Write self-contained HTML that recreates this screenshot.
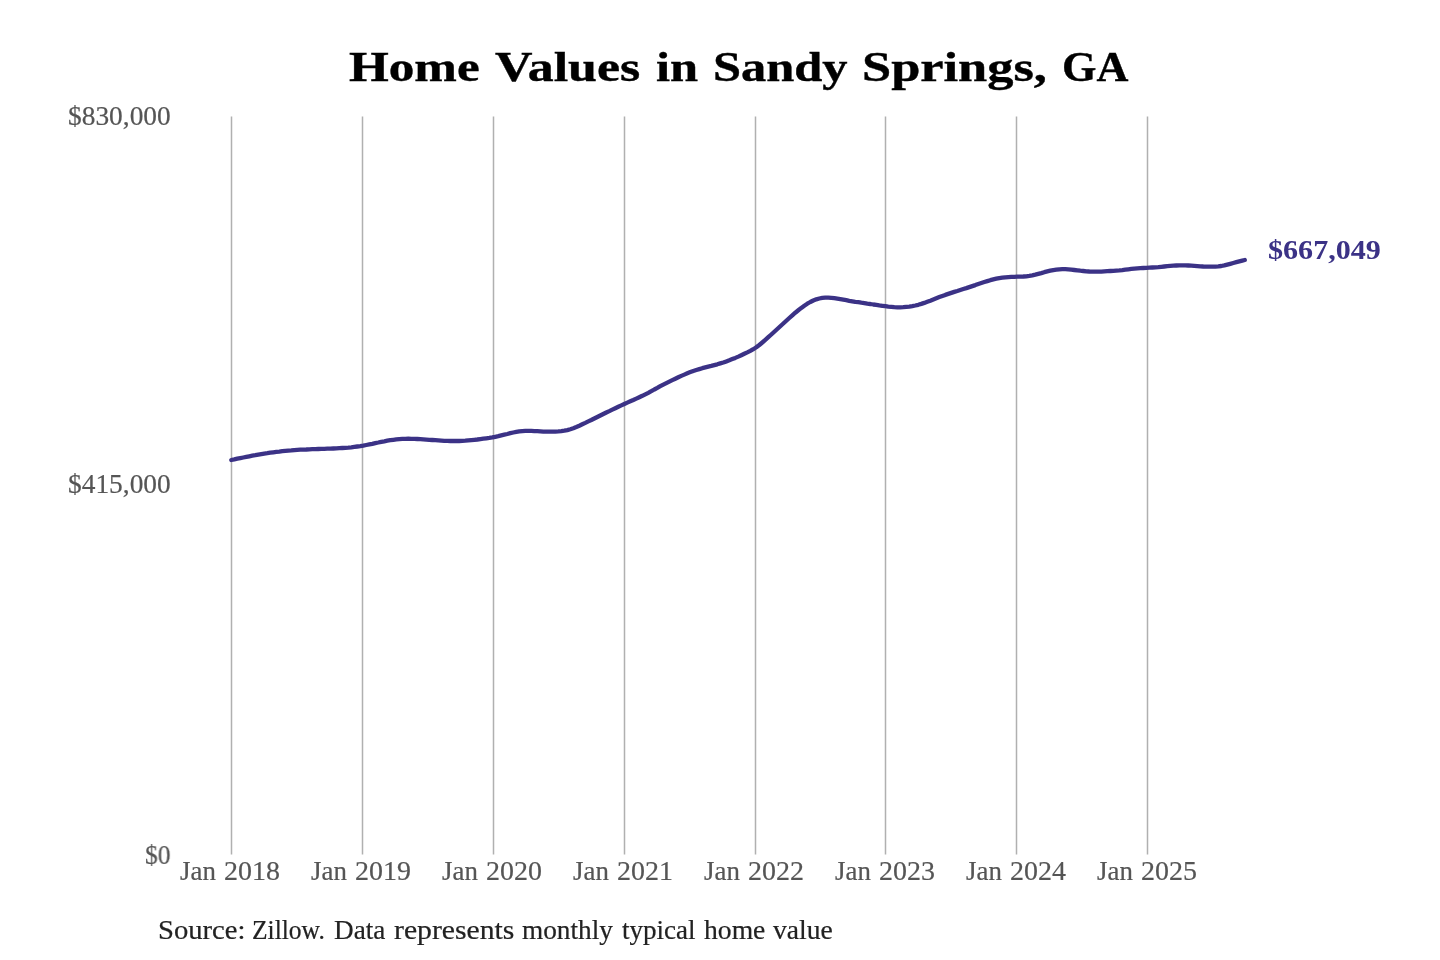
<!DOCTYPE html>
<html><head><meta charset="utf-8"><title>Home Values in Sandy Springs, GA</title>
<style>
html,body{margin:0;padding:0;background:#fff;}
body{width:1440px;height:960px;position:relative;overflow:hidden;font-family:"Liberation Serif",serif;}
svg{position:absolute;left:0;top:0;}
.g{position:absolute;left:0;top:0;margin:0;will-change:transform;}
.g span{position:absolute;white-space:nowrap;line-height:1;transform-origin:0 0;}
.title{font-weight:bold;color:#000;-webkit-text-stroke:0.4px #000;}
.tick{color:#555;-webkit-text-stroke:0.2px #555;}
.val{font-weight:bold;color:#3b3286;}
.src{color:#222;-webkit-text-stroke:0.2px #222;}
</style></head><body>
<svg width="1440" height="960" viewBox="0 0 1440 960">
<g stroke="#b0b0b0" stroke-width="1.5" fill="none">
<line x1="231.5" y1="116.4" x2="231.5" y2="854.6"/>
<line x1="362.5" y1="116.4" x2="362.5" y2="854.6"/>
<line x1="493.5" y1="116.4" x2="493.5" y2="854.6"/>
<line x1="624.5" y1="116.4" x2="624.5" y2="854.6"/>
<line x1="755.5" y1="116.4" x2="755.5" y2="854.6"/>
<line x1="885.5" y1="116.4" x2="885.5" y2="854.6"/>
<line x1="1016.5" y1="116.4" x2="1016.5" y2="854.6"/>
<line x1="1147.5" y1="116.4" x2="1147.5" y2="854.6"/>
</g>
<polyline points="231.3,460.0 234.3,459.4 237.3,458.7 240.3,458.1 243.3,457.5 246.3,456.9 249.3,456.3 252.3,455.7 255.3,455.2 258.3,454.6 261.3,454.1 264.3,453.6 267.3,453.2 270.3,452.7 273.3,452.3 276.3,451.9 279.3,451.6 282.3,451.2 285.3,450.9 288.3,450.6 291.3,450.4 294.3,450.1 297.3,449.9 300.3,449.7 303.3,449.6 306.3,449.5 309.3,449.3 312.3,449.2 315.3,449.1 318.3,449.0 321.3,448.9 324.3,448.8 327.3,448.7 330.3,448.6 333.3,448.5 336.3,448.4 339.3,448.2 342.3,448.0 345.3,447.8 348.3,447.6 351.3,447.3 354.3,446.9 357.3,446.5 360.3,446.1 363.3,445.6 366.3,445.0 369.3,444.4 372.3,443.8 375.3,443.1 378.3,442.5 381.3,441.8 384.3,441.3 387.3,440.7 390.3,440.2 393.3,439.8 396.3,439.4 399.3,439.1 402.3,438.9 405.3,438.8 408.3,438.7 411.3,438.8 414.3,438.9 417.3,439.0 420.3,439.2 423.3,439.4 426.3,439.6 429.3,439.8 432.3,440.0 435.3,440.2 438.3,440.4 441.3,440.6 444.3,440.8 447.3,440.9 450.3,441.0 453.3,441.0 456.3,441.0 459.3,441.0 462.3,440.9 465.3,440.7 468.3,440.4 471.3,440.1 474.3,439.8 477.3,439.5 480.3,439.1 483.3,438.7 486.3,438.3 489.3,437.9 492.3,437.4 495.3,436.8 498.3,436.2 501.3,435.4 504.3,434.7 507.3,434.0 510.3,433.2 513.3,432.5 516.3,431.9 519.3,431.4 522.3,431.1 525.3,430.9 528.3,430.8 531.3,430.9 534.3,431.1 537.3,431.2 540.3,431.4 543.3,431.6 546.3,431.7 549.3,431.7 552.3,431.7 555.3,431.6 558.3,431.4 561.3,431.1 564.3,430.7 567.3,430.1 570.3,429.2 573.3,428.2 576.3,427.0 579.3,425.7 582.3,424.3 585.3,422.9 588.3,421.4 591.3,420.0 594.3,418.5 597.3,417.0 600.3,415.5 603.3,414.0 606.3,412.5 609.3,411.1 612.3,409.6 615.3,408.2 618.3,406.8 621.3,405.4 624.3,404.0 627.3,402.6 630.3,401.3 633.3,400.0 636.3,398.6 639.3,397.2 642.3,395.8 645.3,394.3 648.3,392.8 651.3,391.2 654.3,389.5 657.3,387.9 660.3,386.2 663.3,384.6 666.3,383.1 669.3,381.6 672.3,380.1 675.3,378.7 678.3,377.3 681.3,375.9 684.3,374.6 687.3,373.3 690.3,372.1 693.3,371.0 696.3,370.0 699.3,369.1 702.3,368.2 705.3,367.4 708.3,366.6 711.3,365.9 714.3,365.1 717.3,364.3 720.3,363.4 723.3,362.5 726.3,361.4 729.3,360.3 732.3,359.1 735.3,357.9 738.3,356.6 741.3,355.2 744.3,353.8 747.3,352.4 750.3,350.9 753.3,349.2 756.3,347.3 759.3,345.0 762.3,342.5 765.3,339.9 768.3,337.2 771.3,334.5 774.3,331.7 777.3,329.0 780.3,326.2 783.3,323.5 786.3,320.7 789.3,318.0 792.3,315.3 795.3,312.7 798.3,310.3 801.3,307.9 804.3,305.7 807.3,303.7 810.3,302.0 813.3,300.5 816.3,299.3 819.3,298.5 822.3,297.9 825.3,297.6 828.3,297.6 831.3,297.8 834.3,298.2 837.3,298.7 840.3,299.2 843.3,299.7 846.3,300.2 849.3,300.8 852.3,301.3 855.3,301.8 858.3,302.2 861.3,302.7 864.3,303.1 867.3,303.6 870.3,304.0 873.3,304.5 876.3,304.9 879.3,305.4 882.3,305.8 885.3,306.2 888.3,306.6 891.3,306.9 894.3,307.2 897.3,307.3 900.3,307.3 903.3,307.2 906.3,306.9 909.3,306.6 912.3,306.1 915.3,305.5 918.3,304.8 921.3,303.9 924.3,302.9 927.3,301.8 930.3,300.7 933.3,299.5 936.3,298.3 939.3,297.1 942.3,296.0 945.3,294.9 948.3,293.9 951.3,292.9 954.3,291.9 957.3,291.0 960.3,290.0 963.3,289.0 966.3,288.1 969.3,287.1 972.3,286.1 975.3,285.1 978.3,284.0 981.3,283.0 984.3,282.0 987.3,281.1 990.3,280.2 993.3,279.4 996.3,278.7 999.3,278.1 1002.3,277.7 1005.3,277.3 1008.3,277.1 1011.3,276.9 1014.3,276.8 1017.3,276.7 1020.3,276.6 1023.3,276.5 1026.3,276.3 1029.3,275.9 1032.3,275.4 1035.3,274.7 1038.3,273.9 1041.3,273.1 1044.3,272.2 1047.3,271.4 1050.3,270.7 1053.3,270.1 1056.3,269.7 1059.3,269.3 1062.3,269.2 1065.3,269.2 1068.3,269.4 1071.3,269.7 1074.3,270.0 1077.3,270.3 1080.3,270.7 1083.3,271.0 1086.3,271.3 1089.3,271.5 1092.3,271.6 1095.3,271.7 1098.3,271.7 1101.3,271.6 1104.3,271.4 1107.3,271.2 1110.3,271.0 1113.3,270.8 1116.3,270.6 1119.3,270.4 1122.3,270.1 1125.3,269.7 1128.3,269.3 1131.3,268.9 1134.3,268.6 1137.3,268.4 1140.3,268.2 1143.3,268.0 1146.3,267.9 1149.3,267.7 1152.3,267.5 1155.3,267.3 1158.3,267.1 1161.3,266.8 1164.3,266.5 1167.3,266.2 1170.3,265.9 1173.3,265.7 1176.3,265.5 1179.3,265.3 1182.3,265.3 1185.3,265.3 1188.3,265.5 1191.3,265.7 1194.3,265.9 1197.3,266.1 1200.3,266.3 1203.3,266.5 1206.3,266.6 1209.3,266.7 1212.3,266.7 1215.3,266.7 1218.3,266.4 1221.3,266.0 1224.3,265.4 1227.3,264.6 1230.3,263.8 1233.3,263.0 1236.3,262.2 1239.3,261.4 1242.3,260.6 1244.8,260.0" fill="none" stroke="#3b3286" stroke-width="4.3" stroke-linecap="round" stroke-linejoin="round"/>
</svg>
<div class="g title"><span style="left:349.20px;top:45.19px;font-size:43px;transform:scaleX(1.1891)">Home</span> <span style="left:494.70px;top:45.19px;font-size:43px;transform:scaleX(1.2074)">Values</span> <span style="left:655.91px;top:45.19px;font-size:43px;transform:scaleX(1.1727)">in</span> <span style="left:713.44px;top:45.19px;font-size:43px;transform:scaleX(1.1727)">Sandy</span> <span style="left:861.74px;top:45.19px;font-size:43px;transform:scaleX(1.2183)">Springs,</span> <span style="left:1062.13px;top:45.19px;font-size:43px;transform:scaleX(1.0283)">GA</span></div>
<div class="g tick"><span style="left:67.64px;top:103.09px;font-size:26.4px;transform:scaleX(1.0385)">$830,000</span></div>
<div class="g tick"><span style="left:67.64px;top:471.09px;font-size:26.4px;transform:scaleX(1.0385)">$415,000</span></div>
<div class="g tick"><span style="left:144.80px;top:842.09px;font-size:26.4px;transform:scaleX(0.9657)">$0</span></div>
<div class="g tick"><span style="left:180.33px;top:858.09px;font-size:26.4px;transform:scaleX(1.0193)">Jan</span> <span style="left:224.43px;top:858.09px;font-size:26.4px;transform:scaleX(1.0596)">2018</span></div>
<div class="g tick"><span style="left:311.13px;top:858.09px;font-size:26.4px;transform:scaleX(1.0193)">Jan</span> <span style="left:355.23px;top:858.09px;font-size:26.4px;transform:scaleX(1.0596)">2019</span></div>
<div class="g tick"><span style="left:441.98px;top:858.09px;font-size:26.4px;transform:scaleX(1.0193)">Jan</span> <span style="left:486.08px;top:858.09px;font-size:26.4px;transform:scaleX(1.0596)">2020</span></div>
<div class="g tick"><span style="left:573.13px;top:858.09px;font-size:26.4px;transform:scaleX(1.0193)">Jan</span> <span style="left:617.23px;top:858.09px;font-size:26.4px;transform:scaleX(1.0596)">2021</span></div>
<div class="g tick"><span style="left:704.00px;top:858.09px;font-size:26.4px;transform:scaleX(1.0193)">Jan</span> <span style="left:748.10px;top:858.09px;font-size:26.4px;transform:scaleX(1.0596)">2022</span></div>
<div class="g tick"><span style="left:834.83px;top:858.09px;font-size:26.4px;transform:scaleX(1.0193)">Jan</span> <span style="left:878.93px;top:858.09px;font-size:26.4px;transform:scaleX(1.0596)">2023</span></div>
<div class="g tick"><span style="left:965.63px;top:858.09px;font-size:26.4px;transform:scaleX(1.0193)">Jan</span> <span style="left:1009.73px;top:858.09px;font-size:26.4px;transform:scaleX(1.0596)">2024</span></div>
<div class="g tick"><span style="left:1096.83px;top:858.09px;font-size:26.4px;transform:scaleX(1.0193)">Jan</span> <span style="left:1140.93px;top:858.09px;font-size:26.4px;transform:scaleX(1.0596)">2025</span></div>
<div class="g val"><span style="left:1268.06px;top:237.09px;font-size:26.4px;transform:scaleX(1.1402)">$667,049</span></div>
<div class="g src"><span style="left:157.91px;top:917.09px;font-size:26.4px;transform:scaleX(1.0854)">Source:</span> <span style="left:252.10px;top:917.09px;font-size:26.4px;transform:scaleX(0.9669)">Zillow.</span> <span style="left:333.77px;top:917.09px;font-size:26.4px;transform:scaleX(1.0314)">Data</span> <span style="left:393.74px;top:917.09px;font-size:26.4px;transform:scaleX(1.1255)">represents</span> <span style="left:522.07px;top:917.09px;font-size:26.4px;transform:scaleX(1.0332)">monthly</span> <span style="left:621.70px;top:917.09px;font-size:26.4px;transform:scaleX(1.0249)">typical</span> <span style="left:704.20px;top:917.09px;font-size:26.4px;transform:scaleX(1.0470)">home</span> <span style="left:773.30px;top:917.09px;font-size:26.4px;transform:scaleX(1.0461)">value</span></div>
</body></html>
